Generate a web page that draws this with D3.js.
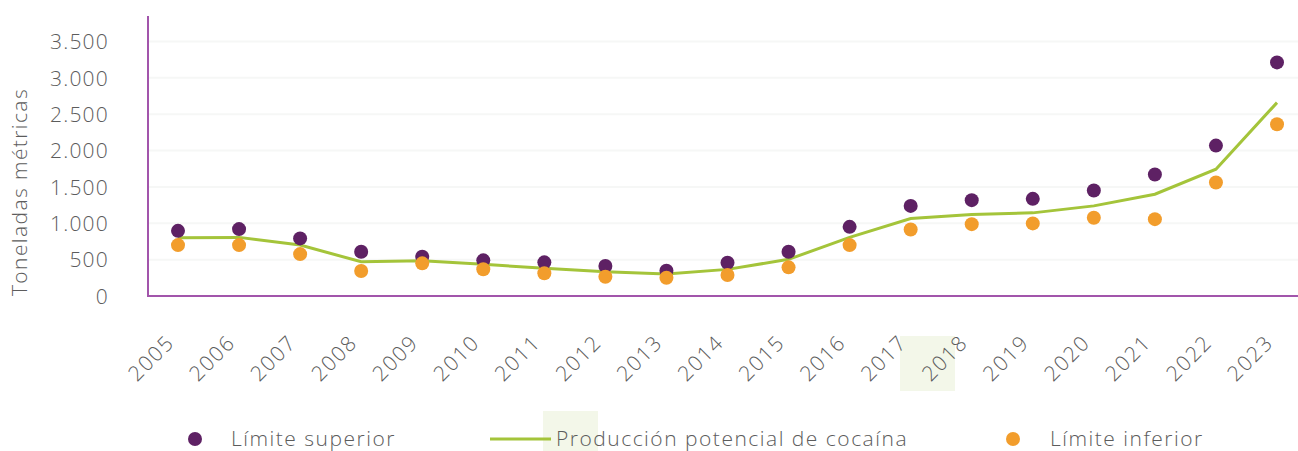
<!DOCTYPE html>
<html>
<head>
<meta charset="utf-8">
<script src="https://cdn.jsdelivr.net/npm/d3@7"></script>
<style>
  html, body { margin: 0; padding: 0; background: #fff; }
  svg { display: block; }
  text { font-family: "Open Sans", sans-serif; font-weight: 300; fill: #5c5c5c; }
</style>
</head>
<body>
<svg id="chart" width="1298" height="451"></svg>
<script>
// Potential cocaine production (metric tonnes) with upper and lower bounds
const years = ["2005","2006","2007","2008","2009","2010","2011","2012","2013","2014",
               "2015","2016","2017","2018","2019","2020","2021","2022","2023"];
const upperBound = [896, 920, 792, 608, 539, 490, 463, 412, 348, 458,
                    608, 951, 1239, 1318, 1336, 1451, 1671, 2068, 3212];
const production = [800, 806, 700, 471, 485, 435, 380, 334, 302, 366,
                    504, 806, 1066, 1121, 1143, 1239, 1400, 1743, 2659];
const lowerBound = [700, 700, 576, 343, 449, 368, 312, 265, 251, 288,
                    394, 700, 915, 988, 998, 1075, 1057, 1561, 2361];
const yTicks = [0, 500, 1000, 1500, 2000, 2500, 3000, 3500];
const yTitle = "Toneladas métricas";
const legendLabels = ["Límite superior", "Producción potencial de cocaína", "Límite inferior"];

const colors = { upper: "#5e2164", line: "#a4c43a", lower: "#f29d2c", axis: "#a255ab", grid: "#f6f7f6" };

const svg = d3.select("#chart");
const plot = { left: 148, right: 1298, top: 16, bottom: 296 };

const x = d3.scalePoint().domain(years).range([178, 1277]);
const y = d3.scaleLinear().domain([0, 3850]).range([plot.bottom, plot.top]);

const fmt = d3.formatLocale({ decimal: ",", thousands: ".", grouping: [3], currency: ["", "€"] }).format(",d");

// soft highlight patches
svg.append("rect").attr("x", 900).attr("y", 336).attr("width", 55).attr("height", 55).attr("fill", "#f3f7e9");
svg.append("rect").attr("x", 543).attr("y", 411).attr("width", 55).attr("height", 40).attr("fill", "#f3f7e9");

// horizontal gridlines
svg.append("g").selectAll("line")
  .data(yTicks.filter(d => d > 0))
  .join("line")
  .attr("x1", plot.left).attr("x2", plot.right)
  .attr("y1", d => y(d)).attr("y2", d => y(d))
  .attr("stroke", colors.grid).attr("stroke-width", 2);

// y axis labels
const yAxis = svg.append("g").attr("transform", `translate(${plot.left},0)`)
  .call(d3.axisLeft(y).tickValues(yTicks).tickFormat(fmt).tickSize(0).tickPadding(39));
yAxis.select(".domain").remove();
yAxis.selectAll("text")
  .style("font-size", "21px").style("letter-spacing", "1.2px")
  .attr("fill", "#5c5c5c").attr("dy", "0.35em");

// x axis labels
const xAxis = svg.append("g").attr("transform", `translate(0,${plot.bottom})`)
  .call(d3.axisBottom(x).tickSize(0).tickPadding(0));
xAxis.select(".domain").remove();
xAxis.selectAll("text")
  .style("font-size", "21px").style("letter-spacing", "1.6px")
  .attr("fill", "#5c5c5c")
  .attr("text-anchor", "end")
  .attr("y", 0).attr("dy", 0)
  .attr("transform", "translate(-3,48) rotate(-45)");

// axis lines
svg.append("line").attr("x1", plot.left).attr("x2", plot.left)
  .attr("y1", plot.top).attr("y2", plot.bottom)
  .attr("stroke", colors.axis).attr("stroke-width", 2);
svg.append("line").attr("x1", plot.left - 1).attr("x2", plot.right)
  .attr("y1", plot.bottom).attr("y2", plot.bottom)
  .attr("stroke", colors.axis).attr("stroke-width", 2);

// y title
svg.append("text")
  .attr("transform", "translate(27,192) rotate(-90)")
  .attr("text-anchor", "middle")
  .style("font-size", "21px").style("letter-spacing", "1.4px")
  .text(yTitle);

// production line
svg.append("path")
  .datum(production)
  .attr("fill", "none")
  .attr("stroke", colors.line).attr("stroke-width", 3)
  .attr("d", d3.line().x((d, i) => x(years[i])).y(d => y(d)));

// bound markers
svg.append("g").selectAll("circle")
  .data(upperBound).join("circle")
  .attr("cx", (d, i) => x(years[i])).attr("cy", d => y(d)).attr("r", 7)
  .attr("fill", colors.upper);
svg.append("g").selectAll("circle")
  .data(lowerBound).join("circle")
  .attr("cx", (d, i) => x(years[i])).attr("cy", d => y(d)).attr("r", 7)
  .attr("fill", colors.lower);

// legend
const legendY = 439;
const lg = svg.append("g").style("font-size", "21px").style("letter-spacing", "1.5px");
lg.append("circle").attr("cx", 195).attr("cy", legendY).attr("r", 7).attr("fill", colors.upper);
lg.append("text").attr("x", 231).attr("y", legendY).attr("dy", "0.35em").text(legendLabels[0]);
lg.append("line").attr("x1", 490).attr("x2", 551).attr("y1", legendY).attr("y2", legendY)
  .attr("stroke", colors.line).attr("stroke-width", 3);
lg.append("text").attr("x", 556).attr("y", legendY).attr("dy", "0.35em").text(legendLabels[1]);
lg.append("circle").attr("cx", 1013).attr("cy", legendY).attr("r", 7).attr("fill", colors.lower);
lg.append("text").attr("x", 1050).attr("y", legendY).attr("dy", "0.35em").text(legendLabels[2]);
</script>
</body>
</html>
